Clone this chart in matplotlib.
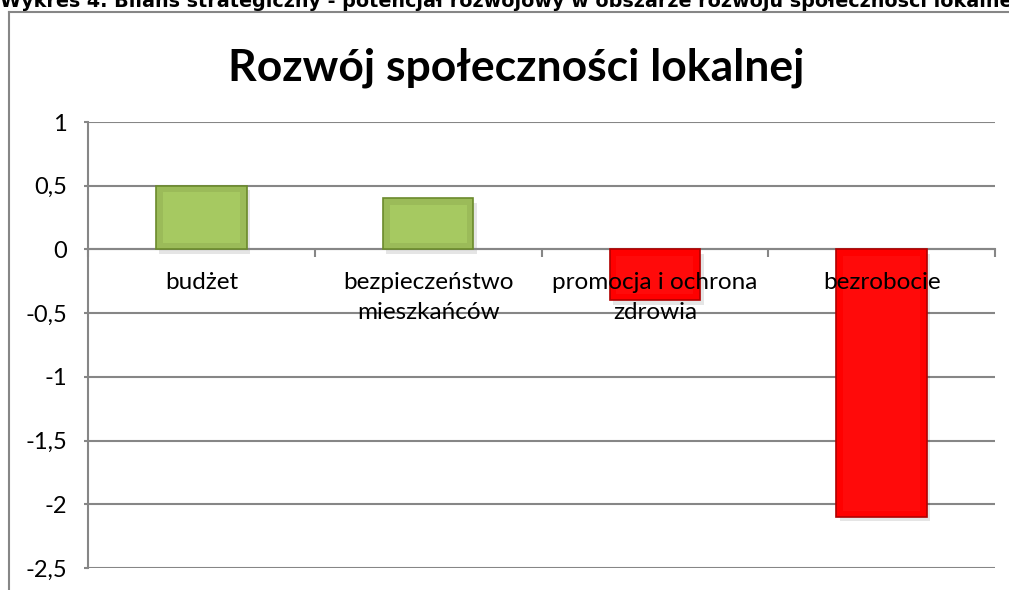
import numpy as np
import matplotlib.pyplot as plt
from matplotlib.patches import Rectangle
from matplotlib.transforms import offset_copy

# -------------------------
# Data
# -------------------------
categories = ["budżet", "bezpieczeństwo\nmieszkańców",
              "promocja i ochrona\nzdrowia", "bezrobocie"]
values = [0.5, 0.4, -0.4, -2.1]
y_ticks = [1, 0.5, 0, -0.5, -1, -1.5, -2, -2.5]
y_tick_labels = ["1", "0,5", "0", "-0,5", "-1", "-1,5", "-2", "-2,5"]

header = ("Wykres 4. Bilans strategiczny - potencjał rozwojowy "
          "w obszarze rozwoju społeczności lokalnej")
title = "Rozwój społeczności lokalnej"

plt.rcParams['font.family'] = ['Lato', 'DejaVu Sans']

W, H = 1009, 590
fig = plt.figure(figsize=(W / 100, H / 100), dpi=100)

# header text, cut by the top edge (as in the source page)
fig.text(0.0, 1 - 7 / H, header, fontsize=13.8, fontweight="bold",
         family="DejaVu Sans", ha="left", va="baseline")

# frame of the chart object
grey = "#868686"
fig.add_artist(plt.Line2D([9 / W, 9 / W], [0, 1 - 12 / H], color=grey, lw=1.5))
fig.add_artist(plt.Line2D([9 / W, 1], [1 - 12 / H, 1 - 12 / H], color=grey, lw=1.5))

fig.text(516 / W, 1 - 68 / H, title, fontsize=32, fontweight="bold",
         ha="center", va="center")

ax = fig.add_axes([88 / W, 1 - 568 / H, (995 - 88) / W, (568 - 122) / H])

x = np.arange(len(categories))
fills = ["#9bbb59" if v >= 0 else "#ff0000" for v in values]
inner = ["#a6c961" if v >= 0 else "#ff0a0a" for v in values]
edges = ["#6b8a2c" if v >= 0 else "#b00000" for v in values]
bw = 0.4

# soft shadows
for xi, v in zip(x, values):
    ax.add_patch(Rectangle((xi - bw / 2 + 0.015, min(v, 0) - 0.035), bw, abs(v),
                           facecolor="#000000", alpha=0.10, lw=0, zorder=2))

ax.bar(x, values, width=bw, color=fills, edgecolor=edges, linewidth=1.2,
       zorder=3)
# bevel look: lighter inset face
for xi, v, c in zip(x, values, inner):
    ax.add_patch(Rectangle((xi - bw / 2 + 0.03, min(v, 0) + 0.05), bw - 0.06,
                           abs(v) - 0.10, facecolor=c, lw=0, zorder=3.5))

ax.set_xlim(-0.5, len(categories) - 0.5)
ax.set_ylim(-2.5, 1)
ax.set_yticks(y_ticks)
ax.set_yticklabels(y_tick_labels, fontsize=17)
ax.grid(axis="y", color=grey, lw=1.5, zorder=0)
ax.set_axisbelow(True)

ax.spines["bottom"].set_position(("data", 0))
for s in ("bottom", "left"):
    ax.spines[s].set_color(grey)
    ax.spines[s].set_linewidth(1.5)
ax.spines["top"].set_visible(False)
ax.spines["right"].set_visible(False)

ax.set_xticks(np.arange(-0.5, len(categories)))
ax.set_xticklabels([])
ax.tick_params(axis="x", length=6, color=grey, width=1.5, direction="out")
ax.tick_params(axis="y", length=3, color=grey, width=1.5, pad=12)

# category labels drawn above the bars
lab_tr = offset_copy(ax.transData, fig=fig, x=0, y=-16, units="points")
for xi, name in zip(x, categories):
    ax.text(xi, 0, name, transform=lab_tr, ha="center", va="top",
            fontsize=17.5, linespacing=1.55, zorder=6)

fig.savefig("out.png", dpi=100)
